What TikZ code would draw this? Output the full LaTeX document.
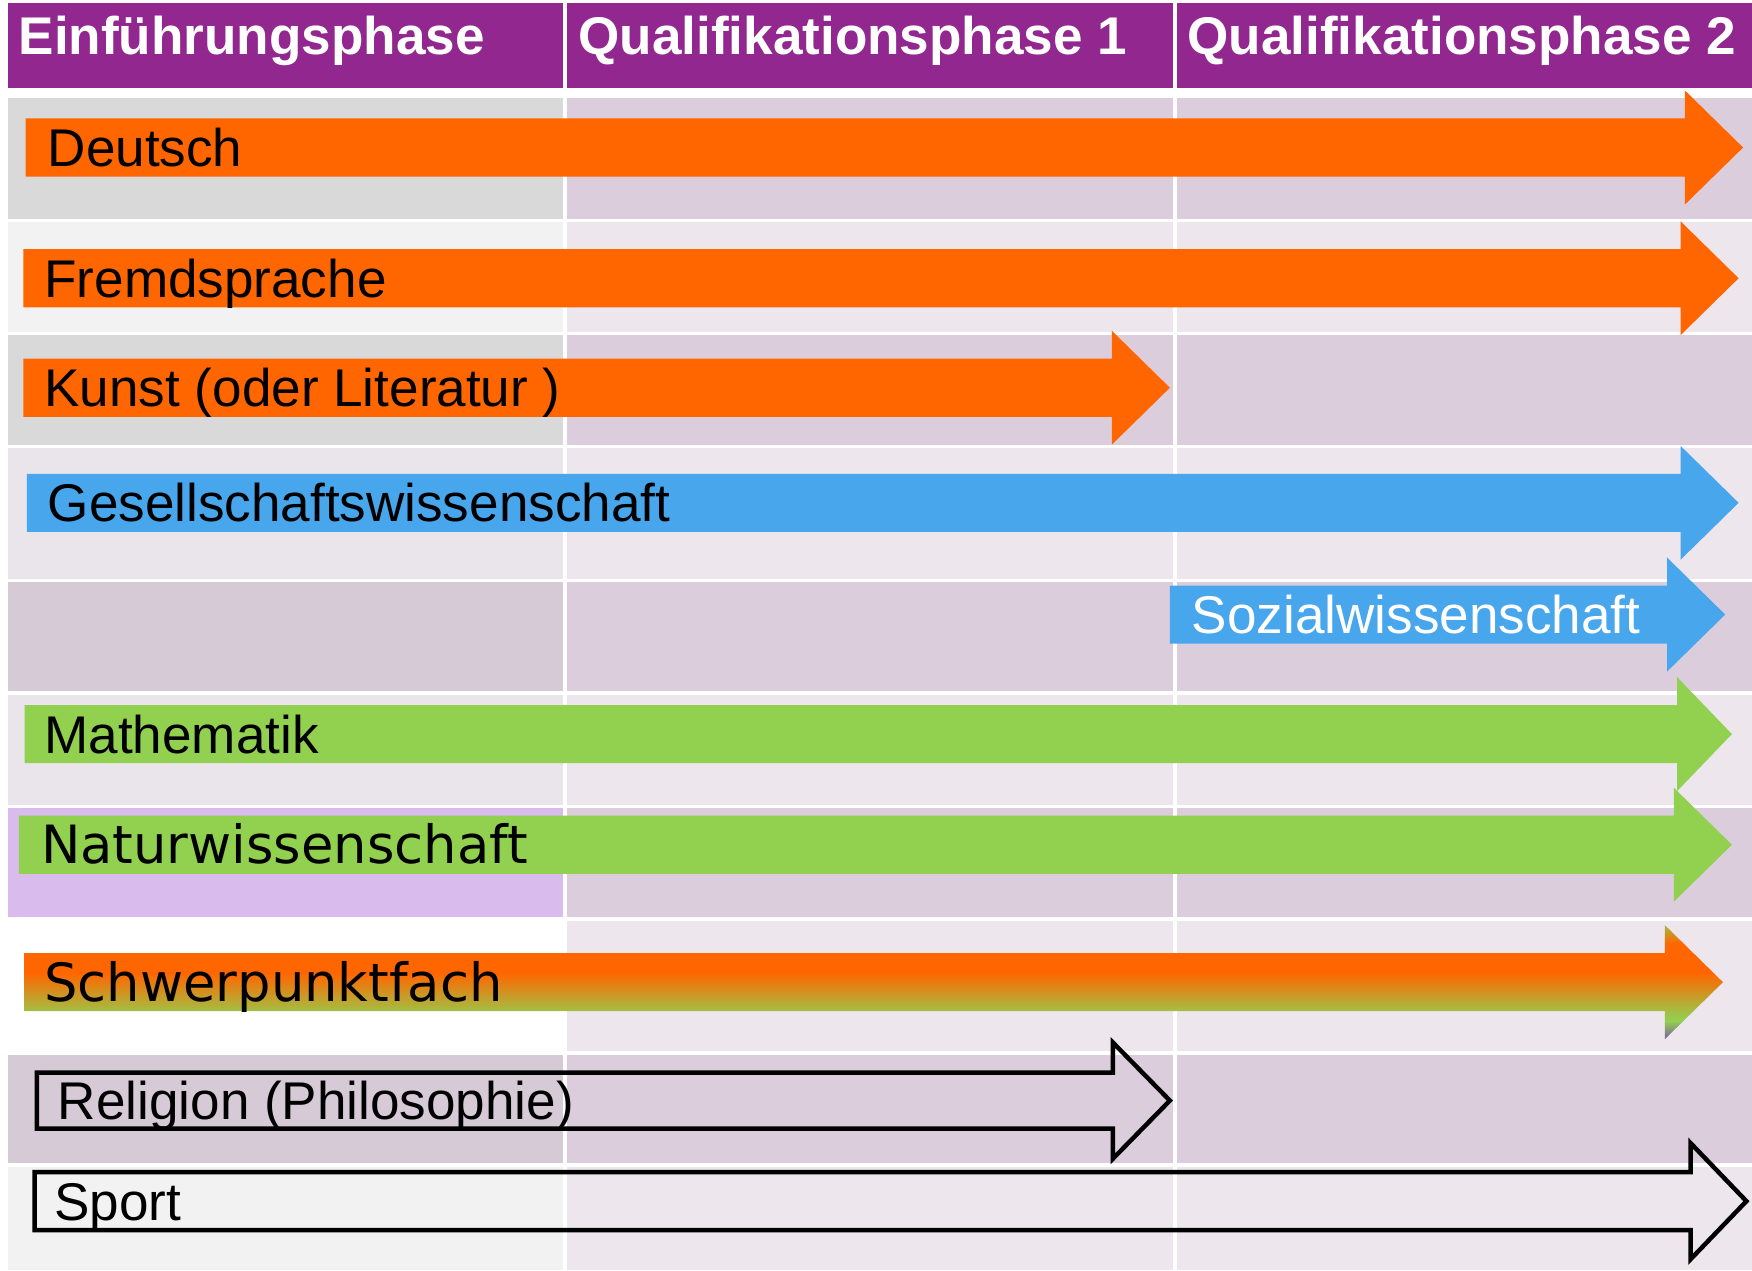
\documentclass[tikz,border=0pt]{standalone}
\usepackage{fontspec}
\setmainfont{Liberation Sans}
\newfontfamily\dejavu{DejaVu Sans}

\definecolor{headpurple}{HTML}{92278F}
\definecolor{cellgray}{HTML}{D9D9D9}
\definecolor{celllight}{HTML}{F2F2F2}
\definecolor{cellmauve}{HTML}{DBCDDB}
\definecolor{cellpale}{HTML}{EDE6ED}
\definecolor{cellgrape}{HTML}{D6CAD7}
\definecolor{cellpalegray}{HTML}{EAE4EB}
\definecolor{celllilac}{HTML}{D9BBED}
\definecolor{subjorange}{HTML}{FF6600}
\definecolor{subjblue}{HTML}{47A6EC}
\definecolor{subjgreen}{HTML}{92D050}
\definecolor{tipolive}{HTML}{A4BA3C}
\definecolor{tipviolet}{HTML}{7A5C9E}

\pgfdeclareverticalshading{schwerpunkt}{100bp}{color(0bp)=(tipviolet); color(25bp)=(tipviolet); color(33bp)=(subjgreen); color(37bp)=(subjgreen!85!subjorange); color(54bp)=(subjorange); color(67bp)=(subjorange); color(75bp)=(tipolive); color(100bp)=(tipolive)}

\tikzset{every picture/.style={line width=0.75pt}}
\tikzset{
  labeltext/.style={anchor=base west, inner sep=0pt, font=\fontsize{23.75}{28}\selectfont},
  headtext/.style={anchor=base west, inner sep=0pt, text=white, font=\fontsize{23.75}{28}\selectfont\bfseries},
  orangearrow/.style={fill=subjorange},
  bluearrow/.style={fill=subjblue},
  greenarrow/.style={fill=subjgreen},
  outlinearrow/.style={draw=black, line width=2pt, line join=miter}
}

\begin{document}
\begin{tikzpicture}[x=0.5pt,y=0.5pt,yscale=-1,xscale=1]
    \useasboundingbox (0,0) rectangle (1568,1137);
    \fill[white] (0,0) rectangle (1568,1137);

    %Shape: Header
    \fill[headpurple] (7,3) rectangle (1568,79);
    %Shape: Rows (first column on top of the rest)
    \fill[cellmauve] (7,88) rectangle (1568,196);
    \fill[cellgray] (7,88) rectangle (505,196);
    \fill[cellpale] (7,199) rectangle (1568,297);
    \fill[celllight] (7,199) rectangle (505,297);
    \fill[cellmauve] (7,300) rectangle (1568,398);
    \fill[cellgray] (7,300) rectangle (505,398);
    \fill[cellpale] (7,401) rectangle (1568,518);
    \fill[cellpalegray] (7,401) rectangle (505,518);
    \fill[cellmauve] (7,521) rectangle (1568,618);
    \fill[cellgrape] (7,521) rectangle (505,618);
    \fill[cellpale] (7,622) rectangle (1568,720);
    \fill[cellpalegray] (7,622) rectangle (505,720);
    \fill[cellmauve] (7,723) rectangle (1568,821);
    \fill[celllilac] (7,723) rectangle (505,821);
    \fill[cellpale] (7,824) rectangle (1568,941);
    \fill[white] (7,824) rectangle (505,941);
    \fill[cellmauve] (7,944) rectangle (1568,1041);
    \fill[cellgrape] (7,944) rectangle (505,1041);
    \fill[cellpale] (7,1044) rectangle (1568,1137);
    \fill[celllight] (7,1044) rectangle (505,1137);
    %Straight Lines: column gaps
    \draw[white, line width=1.5pt] (505.5,0) -- (505.5,1137);
    \draw[white, line width=1.5pt] (1051.5,0) -- (1051.5,1137);

    %Shape: Right Arrow
    \fill[orangearrow] (23,106) -- (1508,106) -- (1508,81) -- (1560,132) -- (1508,183) -- (1508,158) -- (23,158) -- cycle;
    %Shape: Right Arrow
    \fill[orangearrow] (21,223) -- (1504,223) -- (1504,198) -- (1556,249) -- (1504,300) -- (1504,275) -- (21,275) -- cycle;
    %Shape: Right Arrow
    \fill[orangearrow] (21,321) -- (995,321) -- (995,296) -- (1047,347) -- (995,398) -- (995,373) -- (21,373) -- cycle;
    %Shape: Right Arrow
    \fill[bluearrow] (24,424) -- (1504,424) -- (1504,399) -- (1556,450) -- (1504,501) -- (1504,476) -- (24,476) -- cycle;
    %Shape: Right Arrow
    \fill[bluearrow] (1047,524) -- (1492,524) -- (1492,499) -- (1544,550) -- (1492,601) -- (1492,576) -- (1047,576) -- cycle;
    %Shape: Right Arrow
    \fill[greenarrow] (22,631) -- (1501,631) -- (1501,606) -- (1550,657) -- (1501,708) -- (1501,683) -- (22,683) -- cycle;
    %Shape: Right Arrow
    \fill[greenarrow] (17,730) -- (1498,730) -- (1498,705) -- (1550,756) -- (1498,807) -- (1498,782) -- (17,782) -- cycle;
    %Shape: Right Arrow (shaded)
    \shade[shading=schwerpunkt] (22,853) -- (1490,853) -- (1490,828) -- (1542,879) -- (1490,930) -- (1490,905) -- (22,905) -- cycle;
    %Shape: Right Arrow (outline)
    \draw[outlinearrow] (33,960) -- (996,960) -- (996,933) -- (1047,985) -- (996,1037) -- (996,1010) -- (33,1010) -- cycle;
    %Shape: Right Arrow (outline)
    \draw[outlinearrow] (31,1049) -- (1513,1049) -- (1513,1023) -- (1563,1075) -- (1513,1127) -- (1513,1101) -- (31,1101) -- cycle;

    % Text Node
    \node[headtext] (einf) at (16,49) {Einführungsphase};
    % Text Node
    \node[headtext] (qone) at (517,49) {Qualifikationsphase 1};
    % Text Node
    \node[headtext] (qtwo) at (1062,49) {Qualifikationsphase 2};
    % Text Node
    \node[labeltext] (deutsch) at (42,149) {Deutsch};
    % Text Node
    \node[labeltext] (fremd) at (39,266) {Fremdsprache};
    % Text Node
    \node[labeltext] (kunst) at (39,364) {Kunst (oder Literatur )};
    % Text Node
    \node[labeltext] (gesell) at (42,467) {Gesellschaftswissenschaft};
    % Text Node
    \node[labeltext, text=white] (sozial) at (1066,567) {Sozialwissenschaft};
    % Text Node
    \node[labeltext] (mathe) at (39,674) {Mathematik};
    % Text Node
    \node[labeltext, font=\fontsize{23.6}{28}\selectfont\dejavu] (natur) at (36,773) {Naturwissenschaft};
    % Text Node
    \node[labeltext, font=\fontsize{23.6}{28}\selectfont\dejavu] (schwer) at (39,896) {Schwerpunktfach};
    % Text Node
    \node[labeltext] (religion) at (51,1002) {Religion (Philosophie)};
    % Text Node
    \node[labeltext] (sport) at (48,1092) {Sport};

\end{tikzpicture}
\end{document}
